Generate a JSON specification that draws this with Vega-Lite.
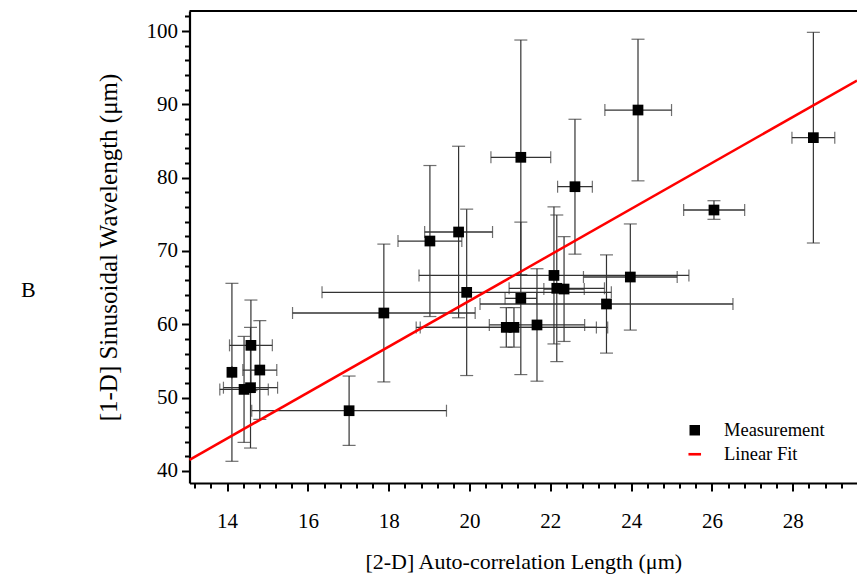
{
  "$schema": "https://vega.github.io/schema/vega-lite/v6.json",
  "autosize": {"type": "none"},
  "width": 667.5,
  "height": 472,
  "padding": {"left": 189.5, "top": 11, "right": 0, "bottom": 96},
  "background": "white",
  "config": {
    "view": {"stroke": null},
    "font": "Liberation Serif",
    "axis": {"grid": false, "domainColor": "black", "domainWidth": 2.2, "tickColor": "black", "tickWidth": 2, "labelColor": "black", "titleColor": "black", "labelFont": "Liberation Serif", "titleFont": "Liberation Serif", "titleFontWeight": "normal"}
  },
  "title": {"text": "B", "orient": "left", "angle": 0, "anchor": "middle", "fontSize": 22, "fontWeight": "normal", "font": "Liberation Serif", "color": "black", "offset": 53, "dy": 33},
  "datasets": {
    "meas": [
      {"x": 14.12, "y": 53.44, "xlo": 14.12, "xhi": 14.12, "ylo": 41.30, "yhi": 65.58, "series": "Measurement"},
      {"x": 14.59, "y": 57.12, "xlo": 14.06, "xhi": 15.12, "ylo": 50.94, "yhi": 63.30, "series": "Measurement"},
      {"x": 14.58, "y": 51.34, "xlo": 13.91, "xhi": 15.25, "ylo": 43.11, "yhi": 59.57, "series": "Measurement"},
      {"x": 14.81, "y": 53.75, "xlo": 14.39, "xhi": 15.23, "ylo": 47.02, "yhi": 60.48, "series": "Measurement"},
      {"x": 14.42, "y": 51.11, "xlo": 13.82, "xhi": 15.02, "ylo": 43.88, "yhi": 58.34, "series": "Measurement"},
      {"x": 17.02, "y": 48.20, "xlo": 14.61, "xhi": 19.43, "ylo": 43.47, "yhi": 52.93, "series": "Measurement"},
      {"x": 17.88, "y": 61.53, "xlo": 15.62, "xhi": 20.14, "ylo": 52.13, "yhi": 70.93, "series": "Measurement"},
      {"x": 19.02, "y": 71.35, "xlo": 18.23, "xhi": 19.81, "ylo": 61.05, "yhi": 81.65, "series": "Measurement"},
      {"x": 19.73, "y": 72.58, "xlo": 18.89, "xhi": 20.57, "ylo": 60.88, "yhi": 84.28, "series": "Measurement"},
      {"x": 19.93, "y": 64.35, "xlo": 16.35, "xhi": 23.51, "ylo": 53.00, "yhi": 75.70, "series": "Measurement"},
      {"x": 21.27, "y": 82.77, "xlo": 20.53, "xhi": 22.01, "ylo": 66.77, "yhi": 98.77, "series": "Measurement"},
      {"x": 21.27, "y": 63.53, "xlo": 20.88, "xhi": 21.66, "ylo": 53.13, "yhi": 73.93, "series": "Measurement"},
      {"x": 22.09, "y": 66.66, "xlo": 18.75, "xhi": 25.43, "ylo": 57.31, "yhi": 76.01, "series": "Measurement"},
      {"x": 23.98, "y": 66.44, "xlo": 22.82, "xhi": 25.14, "ylo": 59.20, "yhi": 73.68, "series": "Measurement"},
      {"x": 22.16, "y": 64.90, "xlo": 20.98, "xhi": 23.34, "ylo": 54.90, "yhi": 74.90, "series": "Measurement"},
      {"x": 22.34, "y": 64.80, "xlo": 21.84, "xhi": 22.84, "ylo": 57.65, "yhi": 71.95, "series": "Measurement"},
      {"x": 23.39, "y": 62.76, "xlo": 20.26, "xhi": 26.52, "ylo": 56.06, "yhi": 69.46, "series": "Measurement"},
      {"x": 20.91, "y": 59.57, "xlo": 18.68, "xhi": 23.14, "ylo": 56.87, "yhi": 62.27, "series": "Measurement"},
      {"x": 21.10, "y": 59.57, "xlo": 18.78, "xhi": 23.42, "ylo": 56.87, "yhi": 62.27, "series": "Measurement"},
      {"x": 21.67, "y": 59.90, "xlo": 20.49, "xhi": 22.85, "ylo": 52.23, "yhi": 67.57, "series": "Measurement"},
      {"x": 22.61, "y": 78.76, "xlo": 22.18, "xhi": 23.04, "ylo": 69.56, "yhi": 87.96, "series": "Measurement"},
      {"x": 24.17, "y": 89.22, "xlo": 23.35, "xhi": 25.00, "ylo": 79.56, "yhi": 98.88, "series": "Measurement"},
      {"x": 26.05, "y": 75.58, "xlo": 25.30, "xhi": 26.81, "ylo": 74.31, "yhi": 76.85, "series": "Measurement"},
      {"x": 28.51, "y": 85.45, "xlo": 27.98, "xhi": 29.04, "ylo": 71.08, "yhi": 99.82, "series": "Measurement"}
    ],
    "fit": [
      {"x": 13.07, "y": 41.50},
      {"x": 29.59, "y": 93.24}
    ],
    "border": [
      {"top": 102.73}
    ]
  },
  "layer": [
    {
      "data": {"name": "meas"},
      "mark": {"type": "rule", "color": "#333333", "strokeWidth": 1.3},
      "encoding": {
        "x": {"field": "xlo", "type": "quantitative", "title": "[2-D] Auto-correlation Length (μm)",
          "scale": {"domain": [13.07, 29.59], "nice": false, "zero": false},
          "axis": {
            "values": [13.2,13.6,14,14.4,14.8,15.2,15.6,16,16.4,16.8,17.2,17.6,18,18.4,18.8,19.2,19.6,20,20.4,20.8,21.2,21.6,22,22.4,22.8,23.2,23.6,24,24.4,24.8,25.2,25.6,26,26.4,26.8,27.2,27.6,28,28.4,28.8,29.2],
            "tickCount": 200,
            "labelExpr": "datum.value % 2 === 0 ? format(datum.value, 'd') : ''",
            "labelOverlap": false,
            "labelFlush": false,
            "tickSize": {"condition": {"test": "datum.value % 2 === 0", "value": 8}, "value": 5},
            "labelFontSize": 21,
            "labelPadding": 19,
            "titleFontSize": 22,
            "titlePadding": 20
          }
        },
        "x2": {"field": "xhi"},
        "y": {"field": "y", "type": "quantitative", "title": "[1-D] Sinusoidal Wavelength (μm)",
          "scale": {"domain": [38.34, 102.73], "nice": false, "zero": false},
          "axis": {
            "values": [40,42,44,46,48,50,52,54,56,58,60,62,64,66,68,70,72,74,76,78,80,82,84,86,88,90,92,94,96,98,100,102],
            "tickCount": 200,
            "labelExpr": "datum.value % 10 === 0 ? format(datum.value, 'd') : ''",
            "labelOverlap": false,
            "labelFlush": false,
            "tickSize": {"condition": {"test": "datum.value % 10 === 0", "value": 8}, "value": 5},
            "labelFontSize": 21,
            "labelPadding": 4,
            "titleFontSize": 25,
            "titlePadding": 25
          }
        }
      }
    },
    {
      "data": {"name": "meas"},
      "mark": {"type": "rule", "color": "#333333", "strokeWidth": 1.2},
      "encoding": {
        "x": {"field": "x", "type": "quantitative", "title": "[2-D] Auto-correlation Length (μm)"},
        "y": {"field": "ylo", "type": "quantitative", "title": "[1-D] Sinusoidal Wavelength (μm)"},
        "y2": {"field": "yhi"}
      }
    },
    {
      "data": {"name": "meas"},
      "mark": {"type": "tick", "orient": "horizontal", "color": "#333333", "thickness": 1.2, "size": 13},
      "encoding": {
        "x": {"field": "x", "type": "quantitative", "title": "[2-D] Auto-correlation Length (μm)"},
        "y": {"field": "ylo", "type": "quantitative", "title": "[1-D] Sinusoidal Wavelength (μm)"}
      }
    },
    {
      "data": {"name": "meas"},
      "mark": {"type": "tick", "orient": "horizontal", "color": "#333333", "thickness": 1.2, "size": 13},
      "encoding": {
        "x": {"field": "x", "type": "quantitative", "title": "[2-D] Auto-correlation Length (μm)"},
        "y": {"field": "yhi", "type": "quantitative", "title": "[1-D] Sinusoidal Wavelength (μm)"}
      }
    },
    {
      "data": {"name": "meas"},
      "mark": {"type": "tick", "orient": "vertical", "color": "#333333", "thickness": 1.2, "size": 12},
      "encoding": {
        "x": {"field": "xlo", "type": "quantitative", "title": "[2-D] Auto-correlation Length (μm)"},
        "y": {"field": "y", "type": "quantitative", "title": "[1-D] Sinusoidal Wavelength (μm)"}
      }
    },
    {
      "data": {"name": "meas"},
      "mark": {"type": "tick", "orient": "vertical", "color": "#333333", "thickness": 1.2, "size": 12},
      "encoding": {
        "x": {"field": "xhi", "type": "quantitative", "title": "[2-D] Auto-correlation Length (μm)"},
        "y": {"field": "y", "type": "quantitative", "title": "[1-D] Sinusoidal Wavelength (μm)"}
      }
    },
    {
      "data": {"name": "meas"},
      "mark": {"type": "point", "filled": true, "opacity": 1, "size": 115},
      "encoding": {
        "x": {"field": "x", "type": "quantitative", "title": "[2-D] Auto-correlation Length (μm)"},
        "y": {"field": "y", "type": "quantitative", "title": "[1-D] Sinusoidal Wavelength (μm)"},
        "color": {"field": "series", "type": "nominal",
          "scale": {"domain": ["Measurement", "Linear Fit"], "range": ["#000000", "#ff0000"]},
          "legend": {"title": null, "orient": "none", "legendX": 496, "legendY": 410, "labelFont": "Liberation Serif", "labelFontSize": 18.5, "labelColor": "black", "symbolSize": 110, "symbolStrokeWidth": 0, "labelOffset": 20, "rowPadding": 5}
        },
        "shape": {"field": "series", "type": "nominal",
          "scale": {"domain": ["Measurement", "Linear Fit"], "range": ["square", "M-1.2,-0.25L1.2,-0.25L1.2,0.25L-1.2,0.25Z"]}
        }
      }
    },
    {
      "data": {"name": "fit"},
      "mark": {"type": "line", "color": "#ff0000", "strokeWidth": 2.5},
      "encoding": {
        "x": {"field": "x", "type": "quantitative", "title": "[2-D] Auto-correlation Length (μm)"},
        "y": {"field": "y", "type": "quantitative", "title": "[1-D] Sinusoidal Wavelength (μm)"}
      }
    },
    {
      "data": {"name": "border"},
      "mark": {"type": "rule", "color": "black", "strokeWidth": 2.2},
      "encoding": {
        "y": {"field": "top", "type": "quantitative", "title": "[1-D] Sinusoidal Wavelength (μm)"}
      }
    }
  ]
}
